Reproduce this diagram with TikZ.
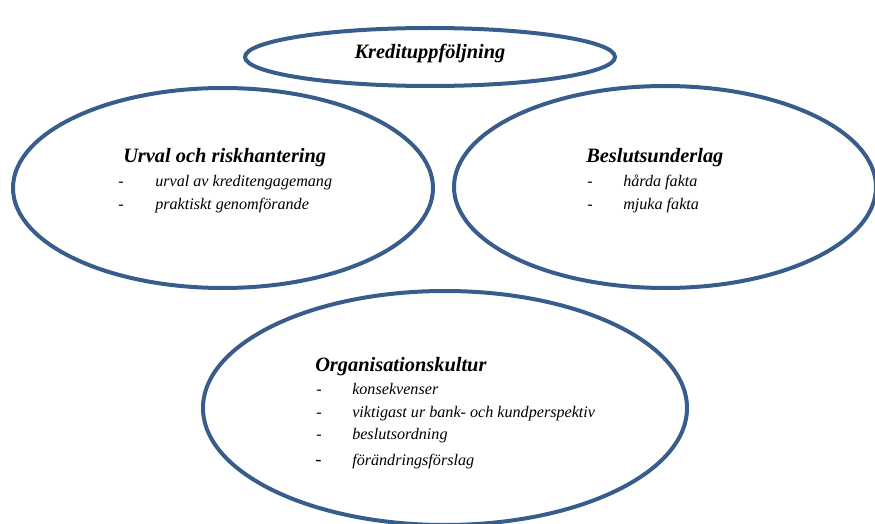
\documentclass[tikz,border=0pt]{standalone}
\usepackage{fontspec}
\setmainfont{Liberation Serif}
\usetikzlibrary{shapes.geometric}
\definecolor{ovalblue}{RGB}{56,93,138}
\tikzset{oval/.style={draw=ovalblue,line width=3pt,ellipse,inner sep=0pt},
 rubrik/.style={anchor=base west,inner sep=0pt,font=\fontsize{15.3}{18}\selectfont\bfseries\itshape},
 punkt/.style={anchor=base west,inner sep=0pt,font=\fontsize{12.1}{14}\selectfont\itshape},
 streck/.style={anchor=base west,inner sep=0pt,font=\fontsize{12}{14}\selectfont}}
\begin{document}
\begin{tikzpicture}[x=0.75pt,y=-0.75pt]
 \useasboundingbox (0,0) rectangle (875,524);
 % ovalerna
 \node[oval,minimum width=277.5pt,minimum height=43.5pt] (kredit) at (430,57) {};
 \node[oval,minimum width=315pt,minimum height=150pt] (urval) at (223,188) {};
 \node[oval,minimum width=316.5pt,minimum height=151.5pt] (beslut) at (665,187) {};
 \node[oval,minimum width=363pt,minimum height=175.5pt] (org) at (445,408) {};
 % texter
 \node[rubrik,anchor=base] (kreditrubrik) at (430,59) {Kredituppföljning};
 \node[rubrik] (urvalrubrik) at (123,163) {Urval och riskhantering};
 \node[streck] (urvals1) at (118,187) {-};
 \node[punkt] (urvalp1) at (155,187) {urval av kreditengagemang};
 \node[streck] (urvals2) at (118,210) {-};
 \node[punkt] (urvalp2) at (155,210) {praktiskt genomförande};
 \node[rubrik] (beslutrubrik) at (586,163) {Beslutsunderlag};
 \node[streck] (beslut1) at (587,187) {-};
 \node[punkt] (beslutp1) at (623,187) {hårda fakta};
 \node[streck] (beslut2) at (587,210) {-};
 \node[punkt] (beslutp2) at (623,210) {mjuka fakta};
 \node[rubrik] (orgrubrik) at (315,371) {Organisationskultur};
 \node[streck] (orgs1) at (316,394) {-};
 \node[punkt] (orgp1) at (352,394) {konsekvenser};
 \node[streck] (orgs2) at (316,417) {-};
 \node[punkt] (orgp2) at (352,417) {viktigast ur bank- och kundperspektiv};
 \node[streck] (orgs3) at (316,439) {-};
 \node[punkt] (orgp3) at (352,439) {beslutsordning};
 \node[streck,font=\fontsize{14}{17}\selectfont] (orgs4) at (315,465) {-};
 \node[punkt] (orgp4) at (352,465) {förändringsförslag};
\end{tikzpicture}
\end{document}
